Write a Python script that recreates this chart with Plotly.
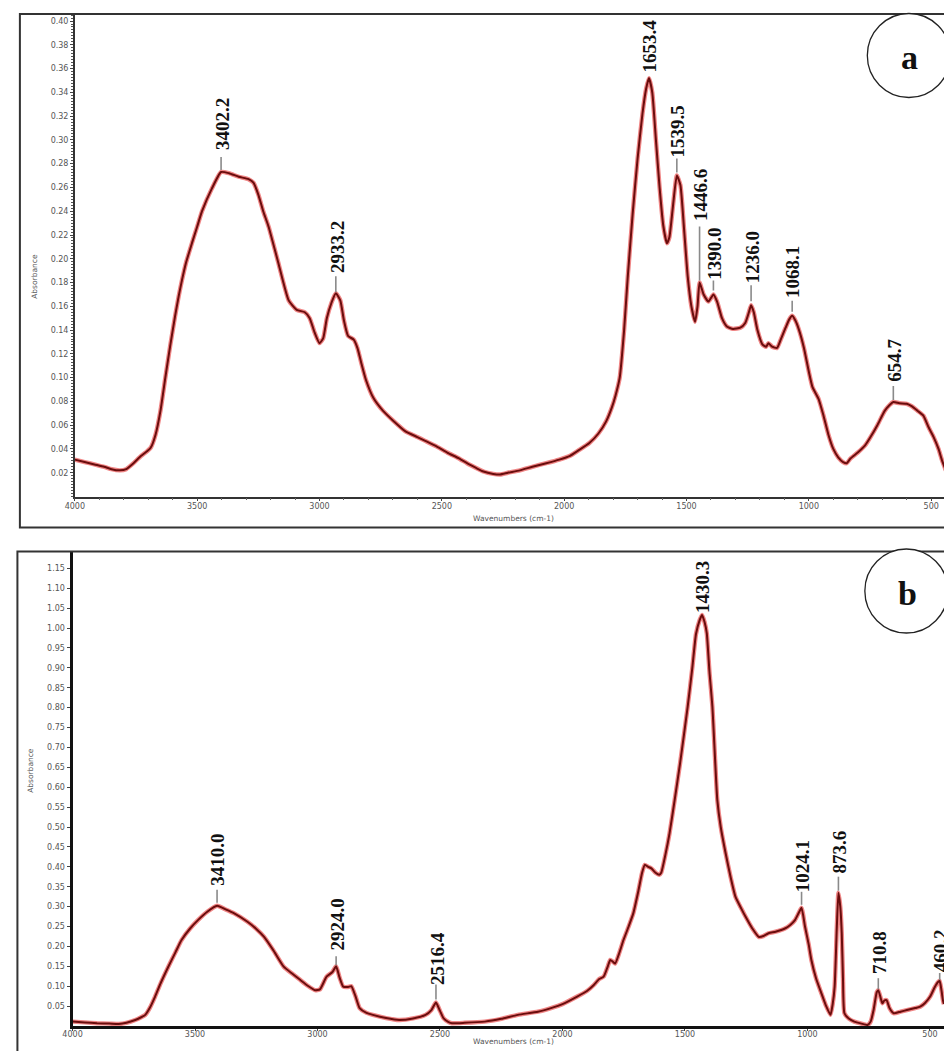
import numpy as np
import plotly.graph_objects as go

# ---------------- spectrum a ----------------
wn_a = [4000, 3960, 3920, 3880, 3850, 3816, 3790, 3760, 3730, 3705, 3690, 3670, 3650,
        3630, 3610, 3590, 3575, 3562, 3545, 3520, 3500, 3480, 3440, 3402.2, 3370, 3330,
        3290, 3270, 3250, 3230, 3208, 3170, 3126, 3093, 3060, 3040, 3020, 3000, 2985,
        2970, 2951, 2933.2, 2915, 2900, 2883, 2860, 2845, 2830, 2810, 2780, 2740,
        2700, 2650, 2600, 2570, 2520, 2478, 2430, 2397, 2360, 2330, 2290, 2262, 2230,
        2181, 2130, 2073, 2020, 1978, 1940, 1897, 1860, 1829, 1805, 1790, 1773, 1755,
        1740, 1720, 1700, 1680, 1665, 1653.4, 1640, 1625, 1610, 1595, 1580, 1570,
        1555, 1539.5, 1525, 1510, 1495, 1480, 1465, 1455, 1446.6, 1430, 1410, 1390.0,
        1375, 1355, 1335, 1310, 1280, 1260, 1245, 1236.0, 1225, 1210, 1190, 1175,
        1165, 1150, 1130, 1115, 1095, 1080, 1068.1, 1055, 1040, 1020, 1000, 985, 960,
        940, 920, 900, 880, 860, 845, 830, 800, 770, 748, 720, 690, 670, 654.7, 630,
        600, 580, 555, 532, 510, 490, 470, 455, 440]
abs_a = [0.031, 0.029, 0.027, 0.025, 0.023, 0.022, 0.023, 0.028, 0.034, 0.038, 0.041,
         0.052, 0.072, 0.100, 0.127, 0.152, 0.169, 0.182, 0.197, 0.214, 0.227, 0.240,
         0.259, 0.273, 0.272, 0.269, 0.267, 0.264, 0.254, 0.240, 0.227, 0.198, 0.165,
         0.157, 0.155, 0.150, 0.138, 0.129, 0.133, 0.150, 0.163, 0.171, 0.165, 0.148,
         0.135, 0.132, 0.125, 0.113, 0.098, 0.083, 0.072, 0.064, 0.055, 0.050, 0.047,
         0.042, 0.037, 0.032, 0.028, 0.024, 0.021, 0.019, 0.0185, 0.020, 0.022, 0.025,
         0.028, 0.031, 0.034, 0.039, 0.045, 0.053, 0.063, 0.075, 0.085, 0.100, 0.140,
         0.185, 0.238, 0.284, 0.322, 0.343, 0.352, 0.340, 0.300, 0.260, 0.228, 0.213,
         0.218, 0.245, 0.270, 0.262, 0.225, 0.185, 0.160, 0.147, 0.160, 0.180, 0.170,
         0.164, 0.170, 0.164, 0.150, 0.143, 0.141, 0.142, 0.146, 0.155, 0.161, 0.155,
         0.140, 0.128, 0.126, 0.129, 0.126, 0.125, 0.132, 0.142, 0.149, 0.152, 0.148,
         0.140, 0.125, 0.105, 0.092, 0.082, 0.068, 0.052, 0.040, 0.033, 0.029, 0.028,
         0.032, 0.037, 0.043, 0.050, 0.060, 0.072, 0.077, 0.0795, 0.0785, 0.078, 0.076,
         0.072, 0.068, 0.058, 0.050, 0.040, 0.030, 0.022]
peaks_a = [3402.2, 2933.2, 1653.4, 1539.5, 1446.6, 1390.0, 1236.0, 1068.1, 654.7]

# ---------------- spectrum b ----------------
wn_b = [4000, 3950, 3900, 3850, 3811, 3780, 3744, 3720, 3703, 3685, 3663, 3640, 3609,
        3580, 3555, 3520, 3488, 3450, 3410.0, 3375, 3340, 3286, 3250, 3218, 3180,
        3138, 3100, 3071, 3040, 3010, 2990, 2963, 2940, 2924.0, 2910, 2895, 2875,
        2862, 2845, 2828, 2800, 2774, 2720, 2667, 2610, 2559, 2535, 2516.4, 2500,
        2485, 2465, 2451, 2400, 2317, 2250, 2182, 2100, 2047, 2000, 1940, 1900, 1872,
        1850, 1832, 1815, 1805, 1795, 1785, 1770, 1751, 1730, 1711, 1690, 1675, 1664,
        1650, 1637, 1620, 1605, 1597, 1580, 1563, 1542, 1520, 1489, 1470, 1455, 1440,
        1430.3, 1420, 1411, 1400, 1388, 1368, 1354, 1334, 1314, 1294, 1270, 1253,
        1225, 1199, 1180, 1159, 1130, 1092, 1070, 1051, 1035, 1024.1, 1010, 995, 984,
        965, 943, 925, 906, 897, 889, 880, 873.6, 866, 860, 855, 849, 830, 809, 780,
        755, 742, 730, 717, 710.8, 700, 694, 686, 677, 665, 648, 620, 594, 560, 540,
        520, 499, 480, 466, 460.2, 453, 447, 443]
abs_b = [0.011, 0.009, 0.007, 0.006, 0.005, 0.008, 0.015, 0.022, 0.028, 0.045, 0.074,
         0.108, 0.149, 0.185, 0.216, 0.245, 0.266, 0.287, 0.302, 0.293, 0.283, 0.262,
         0.244, 0.224, 0.190, 0.149, 0.130, 0.116, 0.101, 0.090, 0.092, 0.124, 0.135,
         0.150, 0.122, 0.099, 0.098, 0.100, 0.075, 0.045, 0.033, 0.028, 0.020, 0.015,
         0.019, 0.028, 0.040, 0.059, 0.038, 0.019, 0.010, 0.007, 0.008, 0.011, 0.018,
         0.028, 0.036, 0.045, 0.055, 0.074, 0.088, 0.103, 0.118, 0.124, 0.150, 0.166,
         0.162, 0.157, 0.180, 0.216, 0.250, 0.283, 0.340, 0.385, 0.405, 0.400, 0.396,
         0.385, 0.380, 0.385, 0.430, 0.484, 0.568, 0.660, 0.802, 0.900, 0.985, 1.020,
         1.033, 1.015, 0.987, 0.890, 0.802, 0.568, 0.500, 0.434, 0.375, 0.325, 0.295,
         0.275, 0.245, 0.224, 0.226, 0.233, 0.237, 0.245, 0.254, 0.266, 0.285, 0.297,
         0.250, 0.205, 0.166, 0.120, 0.082, 0.052, 0.028, 0.055, 0.099, 0.250, 0.335,
         0.300, 0.233, 0.120, 0.032, 0.018, 0.011, 0.006, 0.0025, 0.011, 0.040, 0.085,
         0.090, 0.068, 0.057, 0.064, 0.065, 0.045, 0.032, 0.036, 0.040, 0.045, 0.0485,
         0.058, 0.074, 0.098, 0.111, 0.113, 0.090, 0.065, 0.055]
peaks_b = [3410.0, 2924.0, 2516.4, 1430.3, 1024.1, 873.6, 710.8, 460.2]

# axis ticks
x_ticks = [4000, 3500, 3000, 2500, 2000, 1500, 1000, 500]
y_ticks_a = [round(0.02 * i, 2) for i in range(1, 21)]
y_ticks_b = [round(0.05 * i, 2) for i in range(1, 24)]

# label marker geometry in pixels above each peak: (tick start, tick end, text bottom)
label_style_a = {3402.2: (2, 15, 21), 2933.2: (1, 17, 19), 1653.4: (0, 0, 5),
                 1539.5: (3, 17, 17), 1446.6: (2, 56, 60), 1390.0: (4, 14, 14),
                 1236.0: (4, 20, 21), 1068.1: (4, 15, 17), 654.7: (2, 16, 19)}
label_style_b = {3410.0: (3, 16, 19), 2924.0: (1, 10, 15), 2516.4: (3, 18, 17),
                 1430.3: (0, 0, 1), 1024.1: (3, 16, 14), 873.6: (2, 16, 18),
                 710.8: (1, 12, 15), 460.2: (1, 8, 8)}

W, H = 944, 1051


def px(x):
    return x / W


def py(y):
    return 1 - y / H


fig = go.Figure()

for xs, ys, ax in [(wn_a, abs_a, ("x", "y")), (wn_b, abs_b, ("x2", "y2"))]:
    # soft red halo under a dark red core line
    fig.add_trace(go.Scatter(x=xs, y=ys, mode="lines", xaxis=ax[0], yaxis=ax[1],
                             line=dict(color="rgba(225,35,35,0.55)", width=4.4,
                                       shape="spline", smoothing=0.5),
                             hoverinfo="skip", showlegend=False))
    fig.add_trace(go.Scatter(x=xs, y=ys, mode="lines", xaxis=ax[0], yaxis=ax[1],
                             line=dict(color="#6a0d0d", width=2.0,
                                       shape="spline", smoothing=0.5),
                             showlegend=False))

shapes = []
annotations = []

for peaks, xs, ys, style, xr, yr in [(peaks_a, wn_a, abs_a, label_style_a, "x", "y"),
                                     (peaks_b, wn_b, abs_b, label_style_b, "x2", "y2")]:
    order = np.argsort(xs)
    for p in peaks:
        a = float(np.interp(p, np.array(xs)[order], np.array(ys)[order]))
        t0, t1, tb = style[p]
        if t1 > t0:
            shapes.append(dict(type="line", xref=xr, yref=yr, x0=p, x1=p,
                               ysizemode="pixel", yanchor=a, y0=t0, y1=t1,
                               line=dict(color="#8a8a8a", width=1.6)))
        annotations.append(dict(x=p, y=a, xref=xr, yref=yr, text=f"<b>{p:.1f}</b>",
                                textangle=-90, showarrow=False, xanchor="center",
                                yanchor="bottom", yshift=tb, xshift=1, borderpad=0,
                                font=dict(family="Liberation Serif", size=19,
                                          color="#111")))

# panel frames
shapes.append(dict(type="rect", xref="paper", yref="paper", x0=px(10), x1=px(1000),
                   y0=py(527.5), y1=py(14), line=dict(color="#333", width=2)))
shapes.append(dict(type="rect", xref="paper", yref="paper", x0=px(7.5), x1=px(1000),
                   y0=py(1100), y1=py(551.5), line=dict(color="#333", width=2)))

# panel letters in circles
for letter, cx, cy in [("a", 908.5, 55.5), ("b", 906, 591)]:
    r = 42
    shapes.append(dict(type="circle", xref="paper", yref="paper",
                       x0=px(cx - r), x1=px(cx + r), y0=py(cy + r), y1=py(cy - r),
                       line=dict(color="#222", width=1.3), fillcolor="white"))
    annotations.append(dict(x=px(cx + 1), y=py(cy + 2), xref="paper", yref="paper",
                            text=f"<b>{letter}</b>", showarrow=False,
                            xanchor="center", yanchor="middle",
                            font=dict(family="Liberation Serif", size=34, color="#111")))

# axis titles
small = dict(family="DejaVu Sans", size=7.5, color="#555")
for xa, ya in [(18, 252), (14, 795)]:
    annotations.append(dict(x=px(xa), y=py(ya), xref="paper", yref="paper",
                            text="Absorbance", textangle=-90, showarrow=False,
                            font=small))
for ya in [518, 1048]:
    annotations.append(dict(x=px(509), y=py(ya), xref="paper", yref="paper",
                            text="Wavenumbers (cm-1)", showarrow=False, font=small))

tickfont = dict(family="DejaVu Sans", size=8, color="#555")
xtext = [str(v) for v in x_ticks]

fig.update_layout(
    width=W, height=H, margin=dict(l=0, r=0, t=0, b=0),
    paper_bgcolor="white", plot_bgcolor="white", showlegend=False,
    shapes=shapes, annotations=annotations,
    xaxis=dict(domain=[px(65.5), 1], anchor="y", range=[4000, 447.6],
               tickvals=x_ticks, ticktext=xtext, ticks="outside", ticklen=3,
               tickcolor="#444", tickfont=tickfont, showgrid=False, zeroline=False,
               showline=True, linecolor="#333", linewidth=1.5, ticklabelstandoff=-2,
               minor=dict(dtick=100, ticks="outside", ticklen=2, tickcolor="#666")),
    yaxis=dict(domain=[py(496.5), py(14.5)], anchor="x", range=[0, 0.4055],
               tickvals=y_ticks_a, ticktext=[f"{v:.2f}" for v in y_ticks_a],
               ticks="outside", ticklen=3, tickcolor="#444", tickfont=tickfont,
               showgrid=False, zeroline=False, showline=True, linecolor="#333",
               linewidth=1.5,
               minor=dict(dtick=0.0025, ticks="outside", ticklen=2, tickcolor="#555")),
    xaxis2=dict(domain=[px(63.2), 1], anchor="y2", range=[4000, 442.6],
                tickvals=x_ticks, ticktext=xtext, ticks="outside", ticklen=2,
                tickcolor="#444", tickfont=tickfont, showgrid=False, zeroline=False,
                showline=True, linecolor="#111", linewidth=3, ticklabelstandoff=-4),
    yaxis2=dict(domain=[py(1026), py(552)], anchor="x2", range=[0, 1.191],
                tickvals=y_ticks_b, ticktext=[f"{v:.2f}" for v in y_ticks_b],
                ticks="outside", ticklen=3, tickcolor="#444", tickfont=tickfont,
                showgrid=False, zeroline=False, showline=True, linecolor="#111",
                linewidth=3),
)

fig.write_html("out.html")
